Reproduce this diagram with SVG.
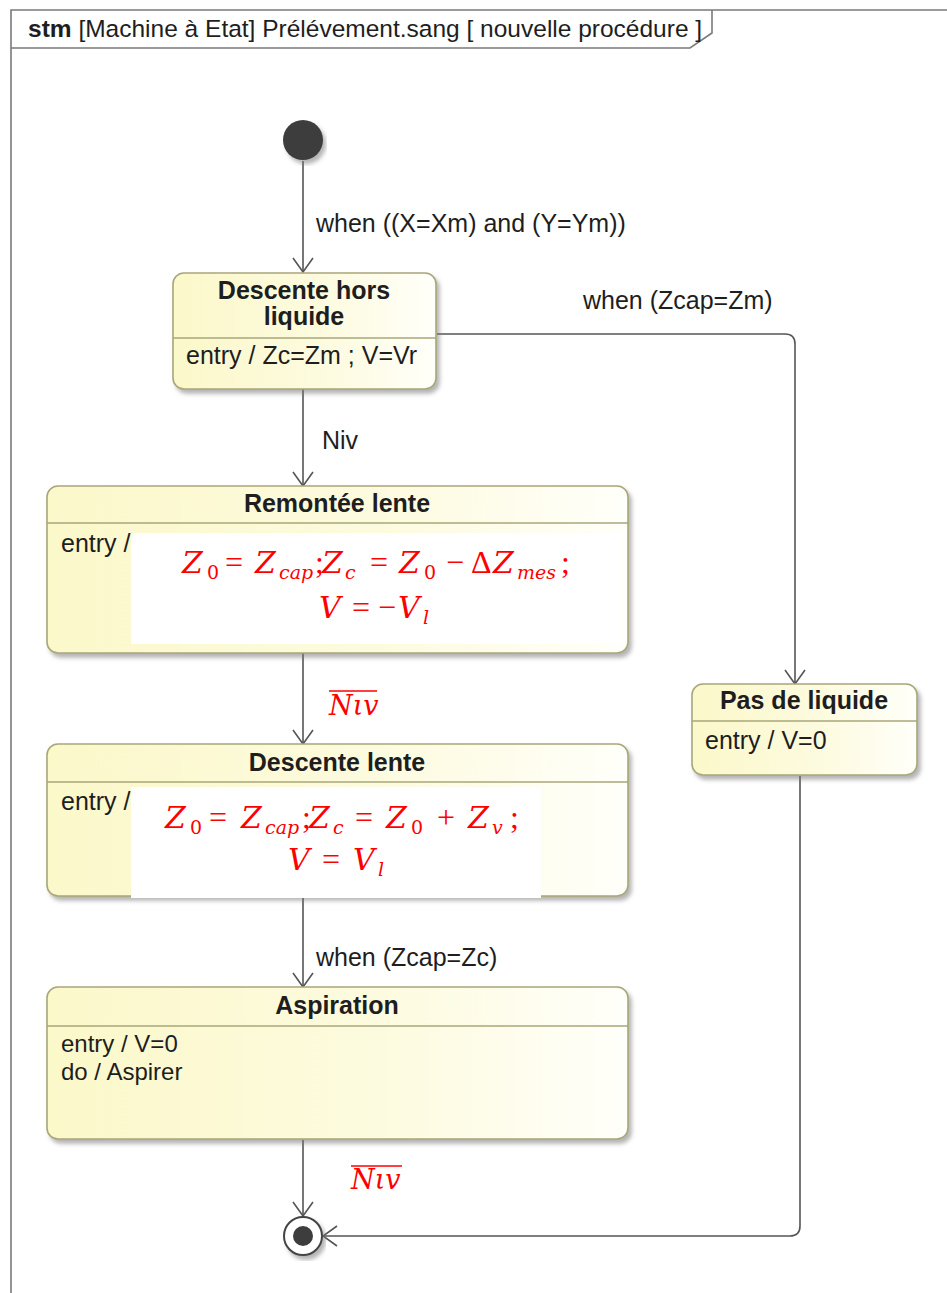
<svg xmlns="http://www.w3.org/2000/svg" width="947" height="1293" viewBox="0 0 947 1293">
<style>
.frame{fill:none;stroke:#7a7a7a;stroke-width:1.6}
.box{fill:url(#g);stroke:#a9a779;stroke-width:1.6;filter:url(#sh)}
.div{stroke:#a9a779;stroke-width:1.4}
.t{font-family:"Liberation Sans",Arial,sans-serif;font-size:25px;fill:#1e1e1e}
.b{font-weight:bold}
.m{font-family:"DejaVu Serif","Liberation Serif",serif;font-size:30px;fill:#ff0000}
.o{font-family:"Liberation Serif","Times New Roman",serif;font-size:32px}
.i{font-style:italic}
.s{font-size:19px}
.e{fill:none;stroke:#555;stroke-width:1.6;marker-end:url(#arr)}
.wh{fill:#ffffff}
</style>
<defs>
<linearGradient id="g" x1="0" y1="0" x2="1" y2="0">
<stop offset="0" stop-color="#fbf8ca"/>
<stop offset="0.6" stop-color="#fdfbe0"/>
<stop offset="1" stop-color="#fffffa"/>
</linearGradient>
<filter id="sh" x="-5%" y="-5%" width="115%" height="120%">
<feDropShadow dx="3" dy="4" stdDeviation="2" flood-color="#777" flood-opacity="0.55"/>
</filter>
<marker id="arr" markerUnits="userSpaceOnUse" markerWidth="16" markerHeight="22" viewBox="0 0 16 22" refX="15" refY="11" orient="auto">
<path d="M1,1 L15,11 L1,21" fill="none" stroke="#555" stroke-width="1.6"/>
</marker>
</defs>
<rect width="947" height="1293" fill="#ffffff"/>

<g id="frame">
<path class="frame" d="M11,1293 V10 H947"/>
<path class="frame" d="M11,48 H690 L712,33 V10"/>
<text class="t" x="28" y="37" style="font-size:24.5px"><tspan class="b">stm</tspan> [Machine à Etat] Prélévement.sang [ nouvelle procédure ]</text>
</g>

<g id="connectors">
<path class="e" d="M303,161 V272"/>
<path class="e" d="M303,389 V486"/>
<path class="e" d="M437,334 H785 Q795,334 795,344 V684"/>
<path class="e" d="M303,653 V744"/>
<path class="e" d="M303,896 V987"/>
<path class="e" d="M303,1140 V1216"/>
<path class="e" d="M800,776 V1226 Q800,1236 790,1236 H323"/>
<text class="t" x="316" y="232">when ((X=Xm) and (Y=Ym))</text>
<text class="t" x="583" y="309">when (Zcap=Zm)</text>
<text class="t" x="322" y="449">Niv</text>
<text class="t" x="316" y="966">when (Zcap=Zc)</text>
<g id="lbl-niv1">
<line x1="329" y1="691" x2="377" y2="691" stroke="#ff0000" stroke-width="1.5"/>
<text class="m i" x="329" y="715" style="font-size:27px">Nιv</text>
</g>
<g id="lbl-niv2">
<line x1="351" y1="1166" x2="402" y2="1166" stroke="#ff0000" stroke-width="1.5"/>
<text class="m i" x="351" y="1189" style="font-size:27px">Nιv</text>
</g>
</g>

<g id="initial">
<circle cx="303" cy="140" r="20" fill="#3d3d3d" filter="url(#sh)"/>
</g>

<g id="descente-hors-liquide">
<rect class="box" x="173" y="273" width="263" height="116" rx="11"/>
<line class="div" x1="173" y1="338" x2="436" y2="338"/>
<text class="t b" x="304" y="299" text-anchor="middle">Descente hors</text>
<text class="t b" x="304" y="325" text-anchor="middle">liquide</text>
<text class="t" x="186" y="364">entry / Zc=Zm ; V=Vr</text>
</g>

<g id="remontee-lente">
<rect class="box" x="47" y="486" width="581" height="167" rx="11"/>
<line class="div" x1="47" y1="523" x2="628" y2="523"/>
<text class="t b" x="337" y="512" text-anchor="middle">Remontée lente</text>
<text class="t" x="61" y="552">entry /</text>
<rect class="wh" x="131" y="533" width="490" height="111"/>
<text class="m"><tspan class="i" x="182" y="573">Z</tspan><tspan class="s" x="207" y="579">0</tspan><tspan class="o" x="225" y="573">=</tspan><tspan class="i" x="255" y="573">Z</tspan><tspan class="i s" x="279" y="579">cap</tspan><tspan class="o" x="315" y="573">;</tspan><tspan class="i" x="322" y="573">Z</tspan><tspan class="i s" x="345" y="579">c</tspan><tspan class="o" x="370" y="573">=</tspan><tspan class="i" x="399" y="573">Z</tspan><tspan class="s" x="424" y="579">0</tspan><tspan class="o" x="446" y="573">−</tspan><tspan class="o" x="471" y="573">Δ</tspan><tspan class="i" x="493" y="573">Z</tspan><tspan class="i s" x="517" y="579">mes</tspan><tspan class="o" x="561" y="573">;</tspan></text>
<text class="m"><tspan class="i" x="319" y="618">V</tspan><tspan class="o" x="352" y="618">=</tspan><tspan class="o" x="378" y="618">−</tspan><tspan class="i" x="398" y="618">V</tspan><tspan class="i s" x="423" y="624">l</tspan></text>
</g>

<g id="descente-lente">
<rect class="box" x="47" y="744" width="581" height="152" rx="11"/>
<line class="div" x1="47" y1="782" x2="628" y2="782"/>
<text class="t b" x="337" y="771" text-anchor="middle">Descente lente</text>
<text class="t" x="61" y="810">entry /</text>
<rect class="wh" x="131" y="787" width="410" height="111"/>
<text class="m"><tspan class="i" x="165" y="828">Z</tspan><tspan class="s" x="190" y="834">0</tspan><tspan class="o" x="209" y="828">=</tspan><tspan class="i" x="241" y="828">Z</tspan><tspan class="i s" x="265" y="834">cap</tspan><tspan class="o" x="302" y="828">;</tspan><tspan class="i" x="309" y="828">Z</tspan><tspan class="i s" x="333" y="834">c</tspan><tspan class="o" x="355" y="828">=</tspan><tspan class="i" x="386" y="828">Z</tspan><tspan class="s" x="411" y="834">0</tspan><tspan class="o" x="437" y="828">+</tspan><tspan class="i" x="468" y="828">Z</tspan><tspan class="i s" x="492" y="834">v</tspan><tspan class="o" x="510" y="828">;</tspan></text>
<text class="m"><tspan class="i" x="288" y="870">V</tspan><tspan class="o" x="322" y="870">=</tspan><tspan class="i" x="353" y="870">V</tspan><tspan class="i s" x="378" y="876">l</tspan></text>
</g>

<g id="aspiration">
<rect class="box" x="47" y="987" width="581" height="152" rx="11"/>
<line class="div" x1="47" y1="1026" x2="628" y2="1026"/>
<text class="t b" x="337" y="1014" text-anchor="middle">Aspiration</text>
<text class="t" x="61" y="1052" style="font-size:24px">entry / V=0</text>
<text class="t" x="61" y="1080" style="font-size:24px">do / Aspirer</text>
</g>

<g id="pas-de-liquide">
<rect class="box" x="692" y="684" width="225" height="91" rx="11"/>
<line class="div" x1="692" y1="721" x2="917" y2="721"/>
<text class="t b" x="804" y="709" text-anchor="middle">Pas de liquide</text>
<text class="t" x="705" y="749">entry / V=0</text>
</g>

<g id="final">
<circle cx="303" cy="1236" r="19" fill="#ffffff" stroke="#444" stroke-width="2" filter="url(#sh)"/>
<circle cx="303" cy="1236" r="10" fill="#3d3d3d"/>
</g>
</svg>
